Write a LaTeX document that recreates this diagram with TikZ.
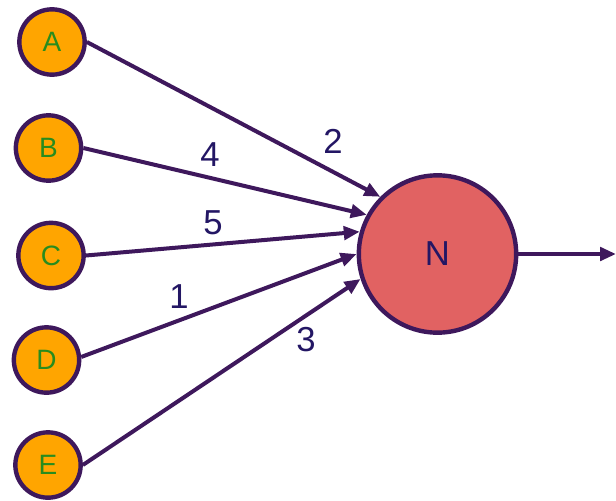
\documentclass[tikz,border=0pt]{standalone}
\usepackage{fontspec}
\setmainfont{Liberation Sans}
\usepackage{tikz}
\usetikzlibrary{arrows.meta}
\definecolor{myorange}{RGB}{255,165,0}
\definecolor{mypurple}{RGB}{62,24,92}
\definecolor{mygreen}{RGB}{40,140,30}
\definecolor{myred}{RGB}{225,98,98}
\definecolor{mynavy}{RGB}{35,22,100}
\tikzset{
  inode/.style={circle, draw=mypurple, fill=myorange, line width=3.3pt,
    minimum size=49pt, inner sep=0pt, text=mygreen,
    font=\fontsize{21}{21}\selectfont},
  nnode/.style={circle, draw=mypurple, fill=myred, line width=3.3pt,
    minimum size=118pt, inner sep=0pt, text=mynavy,
    font=\fontsize{26}{26}\selectfont},
  wlabel/.style={text=mynavy, font=\fontsize{26}{26}\selectfont, inner sep=0pt},
  arrow/.style={-{Triangle[length=12pt,width=10pt]}, line width=3pt, color=mypurple}
}
\begin{document}
\begin{tikzpicture}[x=0.75pt, y=-0.75pt]
  \useasboundingbox (0,0) rectangle (616,500);

  % inputs
  \node[inode] (A) at (52,42) {A};
  \node[inode] (B) at (48.5,148) {B};
  \node[inode] (C) at (51,255.5) {C};
  \node[inode] (D) at (46.5,360) {D};
  \node[inode] (E) at (48,465) {E};

  % neuron
  \node[nnode] (N) at (437.5,254) {N};
  \coordinate (out) at (616,254);

  % weighted inputs
  \draw[arrow] (A.east) -- (N.135);
  \draw[arrow] (B.east) -- (N.151);
  \draw[arrow] (C.east) -- (N.164);
  \draw[arrow] (D.5) -- (N.180);
  \draw[arrow] (E.east) -- (N.198);
  \draw[arrow] (N) -- (out);

  % weights
  \node[wlabel] (w2) at (333,141) {2};
  \node[wlabel] (w4) at (210,155) {4};
  \node[wlabel] (w5) at (213,223) {5};
  \node[wlabel] (w1) at (179,297) {1};
  \node[wlabel] (w3) at (306,340) {3};
\end{tikzpicture}
\end{document}
